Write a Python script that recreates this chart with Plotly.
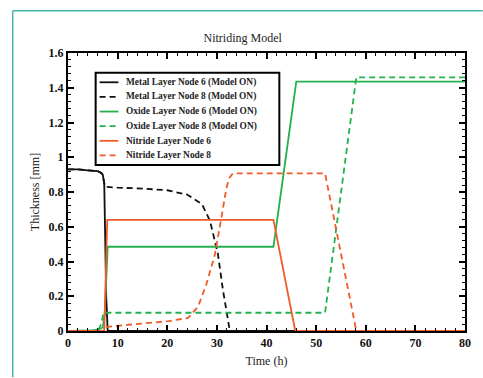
import plotly.graph_objects as go

# ---- data ----
metal6_t = [0, 2, 4, 6, 6.7, 7.0, 7.3, 7.5, 7.7, 8, 80]
metal6_y = [0.93, 0.93, 0.925, 0.92, 0.91, 0.90, 0.85, 0.5, 0.2, 0, 0]

metal8_t = [0, 2, 4, 6, 6.7, 7.0, 7.3, 7.5, 10, 15, 20, 24, 27, 28.6, 30.2, 31.2, 32.2, 32.6, 80]
metal8_y = [0.93, 0.93, 0.925, 0.92, 0.91, 0.90, 0.85, 0.83, 0.825, 0.82, 0.81, 0.785, 0.73, 0.635, 0.445, 0.24, 0.07, 0, 0]

oxide6_t = [0, 3.5, 5, 6.3, 7.0, 7.4, 7.8, 8.0, 41.4, 46, 80]
oxide6_y = [0, 0, 0.003, 0.01, 0.02, 0.1, 0.4, 0.485, 0.485, 1.435, 1.435]

oxide8_t = [0, 3.5, 5, 6.3, 6.8, 7.1, 51.8, 58.1, 80]
oxide8_y = [0, 0, 0.003, 0.015, 0.05, 0.105, 0.105, 1.46, 1.46]

nitride6_t = [0, 7.3, 7.6, 7.9, 41.4, 45.8, 80]
nitride6_y = [0, 0, 0.3, 0.64, 0.64, 0, 0]

nitride8_t = [0, 7.0, 7.5, 8.3, 12, 16, 20.3, 24.2, 26.2, 27.9, 29.6, 30.9, 31.9, 32.5, 33.2, 51.8, 58.1, 80]
nitride8_y = [0, 0, 0.02, 0.025, 0.035, 0.045, 0.057, 0.075, 0.14, 0.27, 0.44, 0.65, 0.82, 0.88, 0.907, 0.907, 0, 0]

names = ["Metal Layer Node 6 (Model ON)", "Metal Layer Node 8 (Model ON)",
         "Oxide Layer Node 6 (Model ON)", "Oxide Layer Node 8 (Model ON)",
         "Nitride Layer Node 6", "Nitride Layer Node 8"]

BLACK = "#111111"
GREEN = "#22b14c"
ORANGE = "#f15a29"
FONT = "Liberation Serif"
DASH = "6px,4px"

series = [
    (metal6_t, metal6_y, BLACK, "solid"),
    (metal8_t, metal8_y, BLACK, DASH),
    (oxide6_t, oxide6_y, GREEN, "solid"),
    (oxide8_t, oxide8_y, GREEN, DASH),
    (nitride6_t, nitride6_y, ORANGE, "solid"),
    (nitride8_t, nitride8_y, ORANGE, DASH),
]

fig = go.Figure()
for (t, y, c, d), n in zip(series, names):
    fig.add_trace(go.Scatter(x=t, y=y, mode="lines", name=n, showlegend=False,
                             line=dict(color=c, width=1.8, dash=d)))

W, H = 483, 378
L, R, T, B = 68, 13, 53, 42
pw, ph = W - L - R, H - T - B

def px_x(p):
    return (p - L) / pw

def px_y(p):
    return (H - B - p) / ph

axis_common = dict(showgrid=False, zeroline=False, showline=True, linecolor="black",
                   linewidth=2, mirror="ticks", ticks="inside", ticklen=6, tickwidth=1.5,
                   tickcolor="black",
                   tickfont=dict(family=FONT, size=12, color="#111", weight="bold"))

fig.update_xaxes(range=[0, 80], dtick=10, tick0=0,
                 minor=dict(dtick=2, ticks="inside", ticklen=3, tickcolor="black", tickwidth=1.2),
                 title=dict(text="Time (h)", font=dict(family=FONT, size=12, color="#222"), standoff=7),
                 **axis_common)
fig.update_yaxes(range=[0, 1.6], dtick=0.2, tick0=0,
                 minor=dict(dtick=0.04, ticks="inside", ticklen=3, tickcolor="black", tickwidth=1.2),
                 title=dict(text="Thickness [mm]", font=dict(family=FONT, size=12, color="#222"), standoff=6),
                 **axis_common)

teal = "#45b5a5"
fig.add_shape(type="line", xref="paper", yref="paper", x0=px_x(12), x1=px_x(W + 5),
              y0=px_y(10), y1=px_y(10), line=dict(color=teal, width=1.5))
fig.add_shape(type="line", xref="paper", yref="paper", x0=px_x(12), x1=px_x(12),
              y0=px_y(10), y1=px_y(H + 5), line=dict(color=teal, width=1.5))

# legend box (drawn as a frame with line samples and text entries)
fig.add_shape(type="rect", xref="paper", yref="paper", layer="above",
              x0=px_x(96), x1=px_x(282), y0=px_y(167), y1=px_y(73),
              fillcolor="white", line=dict(color="black", width=2))
row0, gap = 82.8, 14.9
for i, ((t, y, c, d), n) in enumerate(zip(series, names)):
    yy = px_y(row0 + i * gap)
    fig.add_shape(type="line", xref="paper", yref="paper", layer="above",
                  x0=px_x(100), x1=px_x(119), y0=yy, y1=yy,
                  line=dict(color=c, width=1.8, dash=d))
    fig.add_annotation(xref="paper", yref="paper", x=px_x(125), y=yy,
                       xanchor="left", yanchor="middle", showarrow=False, text=n,
                       font=dict(family=FONT, size=9.4, color="#222", weight="bold"))

fig.update_layout(
    width=W, height=H,
    margin=dict(l=L, r=R, t=T, b=B),
    paper_bgcolor="white", plot_bgcolor="white",
    title=dict(text="Nitriding Model", x=px_x(270), xanchor="center",
               y=1 - 38 / H, yanchor="middle",
               font=dict(family=FONT, size=12, color="#222")),
    showlegend=False,
)

fig.write_html("out.html", config={"displayModeBar": False},
               post_script="document.body.style.margin='0px';")
